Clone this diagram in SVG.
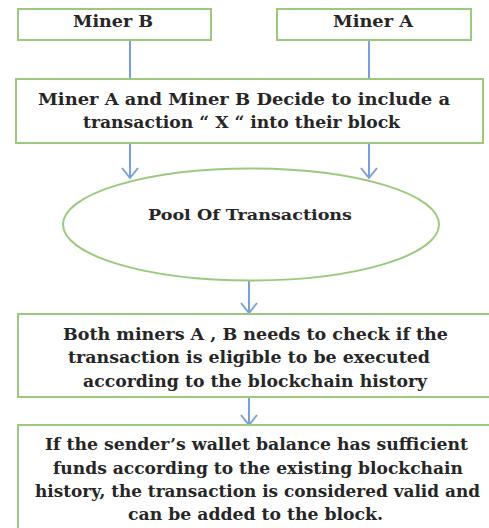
<svg xmlns="http://www.w3.org/2000/svg" width="489" height="528" viewBox="0 0 489 528">
<defs>
<style>
.box{fill:#fff;stroke:#9cc97e;stroke-width:2}
.c{stroke:#7b9fdc;stroke-width:2;fill:none}
</style>
<marker id="ah" markerWidth="14" markerHeight="18" refX="11" refY="9" orient="auto" markerUnits="userSpaceOnUse" viewBox="0 0 14 18">
<path d="M1,1 L11,9 L1,17" fill="none" stroke="#7b9fdc" stroke-width="2"/>
</marker>
</defs>
<rect width="489" height="528" fill="#fff"/>
<g id="connectors">
<line class="c" x1="130" y1="40" x2="130" y2="79"/>
<line class="c" x1="369" y1="40" x2="369" y2="79"/>
<line class="c" x1="130" y1="143" x2="130" y2="178" marker-end="url(#ah)"/>
<line class="c" x1="369" y1="143" x2="369" y2="178" marker-end="url(#ah)"/>
<line class="c" x1="249" y1="281" x2="249" y2="313" marker-end="url(#ah)"/>
<line class="c" x1="249" y1="397" x2="249" y2="425" marker-end="url(#ah)"/>
</g>
<g font-family="DejaVu Serif, Liberation Serif, serif" font-weight="bold" fill="#262626" text-anchor="middle" lengthAdjust="spacingAndGlyphs">
<g id="minerB">
<rect class="box" x="18" y="9" width="193" height="31"/>
<text x="113" y="27" font-size="16" textLength="80" lengthAdjust="spacingAndGlyphs">Miner B</text>
</g>
<g id="minerA">
<rect class="box" x="277" y="9" width="194" height="31"/>
<text x="373" y="27" font-size="16" textLength="80" lengthAdjust="spacingAndGlyphs">Miner A</text>
</g>
<g id="decide">
<rect class="box" x="16" y="79" width="467" height="64"/>
<text x="244" y="105" font-size="17" textLength="412" lengthAdjust="spacingAndGlyphs">Miner A and Miner B Decide to include  a</text>
<text x="241.5" y="128" font-size="17" textLength="317" lengthAdjust="spacingAndGlyphs">transaction “ X “ into their block</text>
</g>
<g id="pool">
<ellipse cx="251" cy="224.5" rx="188" ry="56" fill="#fff" stroke="#9cc97e" stroke-width="2"/>
<text x="250" y="220" font-size="15" textLength="204" lengthAdjust="spacingAndGlyphs">Pool Of Transactions</text>
</g>
<g id="check">
<rect class="box" x="18" y="314" width="480" height="83"/>
<text x="255.5" y="340" font-size="17" textLength="385" lengthAdjust="spacingAndGlyphs">Both miners A , B needs to check if the</text>
<text x="249" y="363" font-size="17" textLength="362" lengthAdjust="spacingAndGlyphs">transaction is eligible to be executed</text>
<text x="255" y="387" font-size="17" textLength="344" lengthAdjust="spacingAndGlyphs">according to the blockchain history</text>
</g>
<g id="valid">
<rect class="box" x="18" y="425" width="480" height="120"/>
<text x="256.5" y="450" font-size="17" textLength="423" lengthAdjust="spacingAndGlyphs">If the sender’s wallet balance has sufficient</text>
<text x="258" y="474" font-size="17" textLength="410" lengthAdjust="spacingAndGlyphs">funds according to the existing blockchain</text>
<text x="257.5" y="497" font-size="17" textLength="445" lengthAdjust="spacingAndGlyphs">history, the transaction is considered valid and</text>
<text x="255.5" y="520" font-size="17" textLength="255" lengthAdjust="spacingAndGlyphs">can be added to the block.</text>
</g>
</g>
</svg>
